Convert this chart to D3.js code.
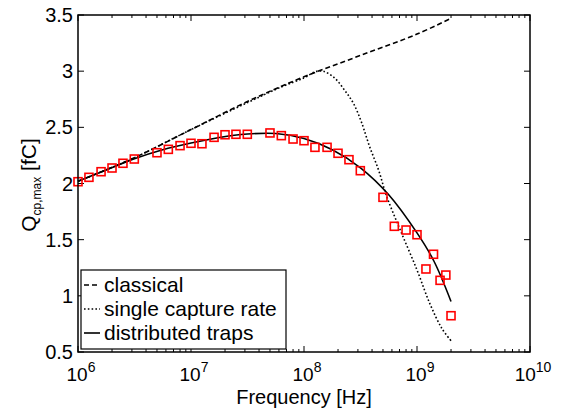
<!DOCTYPE html>
<html>
<head>
<meta charset="utf-8">
<script src="https://cdnjs.cloudflare.com/ajax/libs/d3/7.8.5/d3.min.js"></script>
<style>
  body { margin: 0; background: #fff; }
  svg text { font-family: "Liberation Sans", Arial, sans-serif; fill: #000; }
</style>
</head>
<body>
<div id="chart"></div>
<script>
// measured points (red squares)
let measFreq = [1e6, 1.25e6, 1.6e6, 2e6, 2.5e6, 3.15e6, 5e6, 6.3e6, 8e6,
	1e7, 1.25e7, 1.6e7, 2e7, 2.5e7, 3.15e7, 5e7, 6.3e7, 8e7,
	1e8, 1.25e8, 1.6e8, 2e8, 2.5e8, 3.15e8, 5e8, 6.3e8, 8e8,
	1e9, 1.2e9, 1.4e9, 1.6e9, 1.8e9, 2e9];
let measQ = [2.016, 2.055, 2.105, 2.138, 2.18, 2.218, 2.274, 2.304, 2.337,
	2.358, 2.354, 2.411, 2.434, 2.438, 2.438, 2.45, 2.426, 2.396,
	2.381, 2.322, 2.322, 2.269, 2.212, 2.114, 1.877, 1.619, 1.586,
	1.544, 1.239, 1.37, 1.138, 1.185, 0.823];

// classical model (dashed)
let classFreq = [1e6, 3.16e6, 1e7, 3.16e7, 1e8, 3.16e8, 1e9, 2e9];
let classQ = [2.02, 2.23, 2.48, 2.73, 2.95, 3.14, 3.33, 3.47];

// single capture rate (dotted)
let singleFreq = [1e6, 3.16e6, 1e7, 3.16e7, 6.31e7, 1e8, 1.26e8, 1.48e8, 1.86e8,
	2.29e8, 2.75e8, 3.24e8, 3.8e8, 4.57e8, 5.37e8, 7.08e8, 1e9, 1.3e9, 1.66e9, 2e9];
let singleQ = [2.02, 2.23, 2.48, 2.72, 2.86, 2.94, 2.995, 3.0, 2.94,
	2.83, 2.71, 2.54, 2.33, 2.12, 1.89, 1.59, 1.23, 0.93, 0.71, 0.60];

// distributed traps (solid)
let distFreq = [1e6, 1.78e6, 3.16e6, 5.62e6, 1e7, 1.78e7, 3.16e7, 5.62e7,
	1e8, 1.78e8, 3.16e8, 5.62e8, 1e9, 1.41e9, 2e9];
let distQ = [2.02, 2.12, 2.22, 2.30, 2.36, 2.41, 2.44, 2.445,
	2.40, 2.30, 2.14, 1.90, 1.56, 1.31, 0.95];

let xTickExp = [6, 7, 8, 9, 10];
let yTicks = [0.5, 1, 1.5, 2, 2.5, 3, 3.5];
let legendLabels = ["classical", "single capture rate", "distributed traps"];

function chart(){

	//sizing
	let width = 568, height = 408;
	let margin = {top: 15, right: 38, bottom: 56, left: 78};

	let svg = d3.select("#chart")
		.append("svg")
		.attr("width", width)
		.attr("height", height);

	const xScale = d3.scaleLog()
		.domain([1e6, 1e10])
		.range([margin.left, width - margin.right]);

	const yScale = d3.scaleLinear()
		.domain([0.5, 3.5])
		.range([height - margin.bottom, margin.top]);

	let x0 = margin.left, x1 = width - margin.right;
	let y0 = height - margin.bottom, y1 = margin.top;

	//ticks (inward, on all four sides)
	let minor = [];
	for (let e = 6; e < 10; e++) {
		for (let m = 2; m < 10; m++) minor.push(m * Math.pow(10, e));
	}
	let tg = svg.append("g").attr("stroke", "#000").attr("stroke-width", 1);

	minor.forEach((f)=>{
		let x = xScale(f);
		tg.append("line").attr("x1", x).attr("x2", x).attr("y1", y0).attr("y2", y0 - 3);
		tg.append("line").attr("x1", x).attr("x2", x).attr("y1", y1).attr("y2", y1 + 3);
	});
	xTickExp.forEach((e)=>{
		let x = xScale(Math.pow(10, e));
		tg.append("line").attr("x1", x).attr("x2", x).attr("y1", y0).attr("y2", y0 - 6);
		tg.append("line").attr("x1", x).attr("x2", x).attr("y1", y1).attr("y2", y1 + 6);
	});
	yTicks.forEach((v)=>{
		let y = yScale(v);
		tg.append("line").attr("x1", x0).attr("x2", x0 + 6).attr("y1", y).attr("y2", y);
		tg.append("line").attr("x1", x1).attr("x2", x1 - 6).attr("y1", y).attr("y2", y);
	});

	//tick labels
	xTickExp.forEach((e)=>{
		let t = svg.append("text")
			.attr("x", xScale(Math.pow(10, e)) + 3)
			.attr("y", y0 + 29)
			.attr("text-anchor", "middle")
			.style("font-size", "19px");
		t.append("tspan").text("10");
		t.append("tspan").attr("dy", -9).style("font-size", "14px").text(e);
	});
	yTicks.forEach((v)=>{
		svg.append("text")
			.attr("x", x0 - 5)
			.attr("y", yScale(v) + 7)
			.attr("text-anchor", "end")
			.style("font-size", "20px")
			.text(v);
	});

	//axis labels
	svg.append("text")
		.attr("x", (x0 + x1) / 2)
		.attr("y", 404)
		.attr("text-anchor", "middle")
		.style("font-size", "20px")
		.text("Frequency [Hz]");

	let yl = svg.append("text")
		.attr("transform", "translate(36," + 185 + ") rotate(-90)")
		.attr("text-anchor", "middle")
		.style("font-size", "21px");
	yl.append("tspan").text("Q");
	yl.append("tspan").attr("dy", 5).style("font-size", "12px").text("cp,max");
	yl.append("tspan").attr("dy", -5).text(" [fC]");

	//lines
	let line = d3.line()
		.x((d)=>{ return xScale(d[0]); })
		.y((d)=>{ return yScale(d[1]); })
		.curve(d3.curveCatmullRom);

	let series = [
		{f: classFreq, q: classQ, dash: "5,3"},
		{f: singleFreq, q: singleQ, dash: "1.6,2.2"},
		{f: distFreq, q: distQ, dash: null}
	];

	series.forEach((s)=>{
		svg.append("path")
			.datum(s.f.map((f, i)=>{ return [f, s.q[i]]; }))
			.attr("d", line)
			.attr("fill", "none")
			.attr("stroke", "#000")
			.attr("stroke-width", 1.6)
			.attr("stroke-dasharray", s.dash);
	});

	//measured squares
	svg.selectAll(".meas")
		.data(measFreq.map((f, i)=>{ return [f, measQ[i]]; }))
		.enter()
		.append("rect")
		.attr("class", "meas")
		.attr("x", (d)=>{ return xScale(d[0]) - 4; })
		.attr("y", (d)=>{ return yScale(d[1]) - 4; })
		.attr("width", 8)
		.attr("height", 8)
		.attr("fill", "none")
		.attr("stroke", "#ff0000")
		.attr("stroke-width", 1.6);

	//frame
	svg.append("rect")
		.attr("x", x0).attr("y", y1)
		.attr("width", x1 - x0).attr("height", y0 - y1)
		.attr("fill", "none")
		.attr("stroke", "#000")
		.attr("stroke-width", 1.5);

	//legend
	let lg = svg.append("g").attr("transform", "translate(81,270)");
	lg.append("rect")
		.attr("width", 205).attr("height", 79)
		.attr("fill", "#fff")
		.attr("stroke", "#000")
		.attr("stroke-width", 1.2);

	legendLabels.forEach((lab, i)=>{
		let cy = 15 + i * 24;
		lg.append("line")
			.attr("x1", 3).attr("x2", 19)
			.attr("y1", cy).attr("y2", cy)
			.attr("stroke", "#000")
			.attr("stroke-width", 1.6)
			.attr("stroke-dasharray", series[i].dash);
		lg.append("text")
			.attr("x", 23)
			.attr("y", cy + 7)
			.style("font-size", "21px")
			.text(lab);
	});

}

chart();
</script>
</body>
</html>
